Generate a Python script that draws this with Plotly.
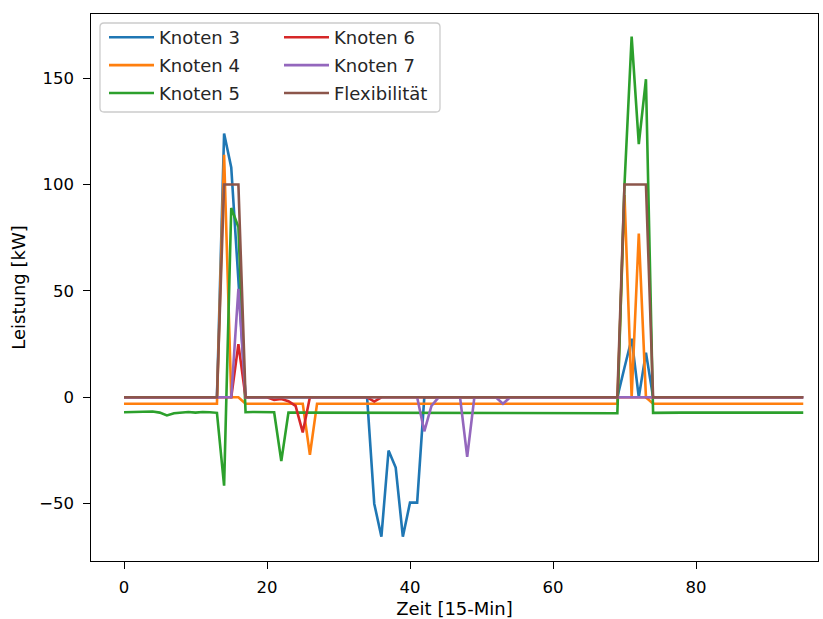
import plotly.graph_objects as go

# ---------------- data (96 quarter-hour steps) ----------------
x = list(range(96))

def series(base, overrides):
    vals = [base] * 96
    for k, v in overrides.items():
        vals[k] = v
    return vals

knoten3 = series(0.0, {14: 124, 15: 108, 16: 55, 17: 0,
                       35: -50, 36: -65.5, 37: -25, 38: -33, 39: -65.5, 40: -49.5, 41: -49.5, 42: 0,
                       70: 14, 71: 27.5, 72: 0, 73: 21, 74: 0})
knoten4 = series(-3.0, {14: 114, 15: 0, 16: 0, 26: -27,
                        70: 95, 71: 0, 72: 77, 73: 0})
knoten5_head = [-7.0, -7.0, -6.9, -6.9, -6.7, -7.2, -8.5, -7.5, -7.2, -6.9, -7.2, -6.9, -7.0, -7.3]
knoten5 = series(-7.2, {i: v for i, v in enumerate(knoten5_head)})
for k, v in {14: -41.5, 15: 89, 16: 80, 17: -7.0, 18: -6.9, 19: -6.9, 20: -7.0, 21: -7.0, 22: -30,
             60: -7.3, 61: -7.3, 62: -7.4, 63: -7.4, 64: -7.4, 65: -7.5, 66: -7.5, 67: -7.5, 68: -7.5, 69: -7.5,
             70: 100, 71: 169.5, 72: 119, 73: 149.5, 74: -7.3}.items():
    knoten5[k] = v
knoten6 = series(0.0, {16: 25, 21: -1.2, 22: -0.8, 23: -1.8, 24: -4, 25: -16.5, 35: -2})
knoten7 = series(0.0, {16: 51, 42: -16, 43: -4, 48: -28, 53: -3})
flex = series(0.0, {14: 100, 15: 100, 16: 100, 70: 100, 71: 100, 72: 100, 73: 100})

names = ["Knoten 3", "Knoten 4", "Knoten 5", "Knoten 6", "Knoten 7", "Flexibilität"]
values = [knoten3, knoten4, knoten5, knoten6, knoten7, flex]
colors = ["#1f77b4", "#ff7f0e", "#2ca02c", "#d62728", "#9467bd", "#8c564b"]
legend_ids = ["legend", "legend", "legend", "legend2", "legend2", "legend2"]

x_ticks = [0, 20, 40, 60, 80]
y_ticks = [-50, 0, 50, 100, 150]

# ---------------- layout geometry (pixels) ----------------
W, H = 823, 619
L, R, T, B = 91, 818, 14, 561
X0PX, DXPX = 124.0, 7.15      # pixel of x=0, pixels per unit
Y0PX, DYPX = 397.3, 2.128     # pixel of y=0, pixels per unit
x_range = [(L - X0PX) / DXPX, (R - X0PX) / DXPX]
y_range = [(Y0PX - B) / DYPX, (Y0PX - T) / DYPX]

def px_x(p):
    return (p - L) / (R - L)

def px_y(p):
    return (B - p) / (B - T)

fig = go.Figure()
for i, (n, v, c, lg) in enumerate(zip(names, values, colors, legend_ids)):
    fig.add_trace(go.Scatter(x=x, y=v, mode="lines", name=n,
                             line=dict(color=c, width=2.6),
                             legend=lg, legendgroup=f"g{i}"))

axis_common = dict(showgrid=False, zeroline=False, showline=True, linecolor="black",
                   linewidth=1.4, mirror=True, ticks="outside", ticklen=6.5, tickwidth=1.4,
                   tickcolor="black", tickfont=dict(family="DejaVu Sans", size=16.5, color="black"))

# rounded legend frame
bx0, bx1, by0, by1, r = 100, 440, 23, 112, 4
path = (f"M {px_x(bx0 + r)},{px_y(by0)} L {px_x(bx1 - r)},{px_y(by0)} "
        f"Q {px_x(bx1)},{px_y(by0)} {px_x(bx1)},{px_y(by0 + r)} "
        f"L {px_x(bx1)},{px_y(by1 - r)} Q {px_x(bx1)},{px_y(by1)} {px_x(bx1 - r)},{px_y(by1)} "
        f"L {px_x(bx0 + r)},{px_y(by1)} Q {px_x(bx0)},{px_y(by1)} {px_x(bx0)},{px_y(by1 - r)} "
        f"L {px_x(bx0)},{px_y(by0 + r)} Q {px_x(bx0)},{px_y(by0)} {px_x(bx0 + r)},{px_y(by0)} Z")

legend_common = dict(xanchor="left", yanchor="top", bgcolor="rgba(0,0,0,0)", borderwidth=0,
                     tracegroupgap=1.5, itemwidth=45,
                     font=dict(family="DejaVu Sans", size=18, color="#262626"),
                     traceorder="grouped")

fig.update_layout(
    width=W, height=H,
    margin=dict(l=L, r=W - R, t=T, b=H - B, autoexpand=False),
    plot_bgcolor="white", paper_bgcolor="white",
    font=dict(family="DejaVu Sans", size=18, color="black"),
    xaxis=dict(range=x_range, tickvals=x_ticks, ticklabelstandoff=4,
               title=dict(text="Zeit [15-Min]", standoff=8, font=dict(size=18)),
               **axis_common),
    yaxis=dict(range=y_range, tickvals=y_ticks, ticklabelstandoff=6,
               title=dict(text="Leistung [kW]", standoff=8, font=dict(size=18)),
               **axis_common),
    legend=dict(x=px_x(104), y=px_y(19), **legend_common),
    legend2=dict(x=px_x(279), y=px_y(19), **legend_common),
    shapes=[dict(type="path", xref="paper", yref="paper", path=path,
                 line=dict(color="rgba(204,204,204,1)", width=1.3),
                 fillcolor="rgba(255,255,255,0.8)", layer="below")],
    showlegend=True,
)

fig.write_html("out.html", config={"displayModeBar": False},
               post_script="document.body.style.margin='0';document.body.style.overflow='hidden';")
